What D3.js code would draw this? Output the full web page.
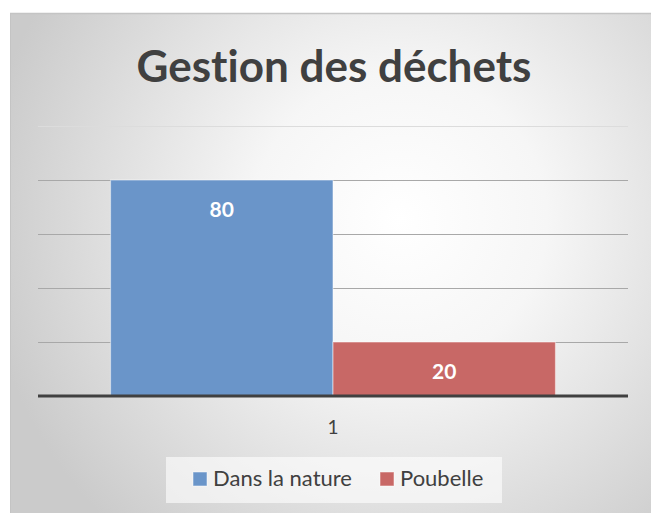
<!DOCTYPE html>
<html>
<head>
<meta charset="utf-8">
<script src="https://cdn.jsdelivr.net/npm/d3@7"></script>
<style>
  html, body { margin: 0; padding: 0; background: #fff; }
  svg { display: block; }
  text { font-variant-ligatures: none; }
</style>
</head>
<body>
<svg id="chart" width="651" height="513"></svg>
<script>
"use strict"

// data
const categories = ["1"];
const seriesNames = ["Dans la nature", "Poubelle"];
const seriesValues = [80, 20];
const seriesColors = ["#6a95c9", "#c86866"];
const yTicks = [0, 20, 40, 60, 80, 100];
const chartTitle = "Gestion des déchets";

const W = 651, H = 513;
const svg = d3.select("#chart");
const font = "Lato, 'Open Sans', sans-serif";

// background gradient
const defs = svg.append("defs");
const grad = defs.append("radialGradient")
    .attr("id", "bg")
    .attr("gradientUnits", "userSpaceOnUse")
    .attr("cx", 400).attr("cy", 220).attr("r", 420);
grad.append("stop").attr("offset", "0%").attr("stop-color", "#ffffff");
grad.append("stop").attr("offset", "35%").attr("stop-color", "#f6f6f6");
grad.append("stop").attr("offset", "100%").attr("stop-color", "#cbcbcb");

svg.append("rect")
    .attr("x", 10).attr("y", 13)
    .attr("width", W - 10).attr("height", H - 13)
    .attr("fill", "url(#bg)");
svg.append("line")
    .attr("x1", 10).attr("x2", W).attr("y1", 13.5).attr("y2", 13.5)
    .attr("stroke", "#c4c4c4").attr("stroke-width", 1.5);
svg.append("line")
    .attr("x1", 10.5).attr("x2", 10.5).attr("y1", 13).attr("y2", H)
    .attr("stroke", "#c4c4c4").attr("stroke-width", 1);

// plot area
const plot = { left: 38, right: 628, top: 126, bottom: 396 };

const y = d3.scaleLinear().domain([0, 100]).range([plot.bottom, plot.top]);
const x0 = d3.scaleBand().domain(categories).range([plot.left, plot.right]).paddingInner(0).paddingOuter(0.163);
const x1 = d3.scaleBand().domain(seriesNames).range([0, x0.bandwidth()]).padding(0);

// gridlines
svg.append("g")
    .selectAll("line")
    .data(yTicks.filter(d => d > 0))
    .join("line")
    .attr("x1", plot.left).attr("x2", plot.right)
    .attr("y1", d => Math.round(y(d)) + 0.5).attr("y2", d => Math.round(y(d)) + 0.5)
    .attr("stroke", d => d === 100 ? "#dcdcdc" : "#a8a8a8")
    .attr("stroke-width", 1.2);

// bars
const groups = svg.append("g")
    .selectAll("g")
    .data(categories)
    .join("g")
    .attr("transform", d => `translate(${x0(d)},0)`);

groups.selectAll("rect")
    .data(() => seriesNames.map((s, i) => ({ name: s, value: seriesValues[i], color: seriesColors[i] })))
    .join("rect")
    .attr("x", d => x1(d.name))
    .attr("y", d => y(d.value))
    .attr("width", x1.bandwidth())
    .attr("height", d => y(0) - y(d.value))
    .attr("fill", d => d.color)
    .attr("stroke", "rgba(255,255,255,0.45)")
    .attr("stroke-width", 1.2);

groups.selectAll("text")
    .data(() => seriesNames.map((s, i) => ({ name: s, value: seriesValues[i] })))
    .join("text")
    .attr("x", d => x1(d.name) + x1.bandwidth() / 2)
    .attr("y", d => y(d.value) + 37)
    .attr("text-anchor", "middle")
    .attr("font-family", font)
    .attr("font-weight", "bold")
    .attr("font-size", 21)
    .attr("fill", "#ffffff")
    .text(d => d.value);

// x axis
const xAxis = svg.append("g")
    .attr("transform", `translate(0,${plot.bottom})`)
    .call(d3.axisBottom(x0).tickSize(0).tickPadding(25));
xAxis.select(".domain").remove();
xAxis.append("line")
    .attr("x1", plot.left).attr("x2", plot.right)
    .attr("y1", 0).attr("y2", 0)
    .attr("stroke", "#404040").attr("stroke-width", 3);
xAxis.selectAll(".tick text")
    .attr("font-family", font)
    .attr("font-size", 19)
    .attr("fill", "#404040");

// title
svg.append("text")
    .attr("x", 334).attr("y", 82)
    .attr("text-anchor", "middle")
    .attr("font-family", font)
    .attr("font-weight", "bold")
    .attr("font-size", 44)
    .attr("fill", "#404040")
    .text(chartTitle);

// legend
const legend = svg.append("g");
legend.append("rect")
    .attr("x", 166).attr("y", 457).attr("width", 336).attr("height", 46)
    .attr("fill", "rgba(255,255,255,0.6)");
const legendX = [193, 380];
const items = legend.selectAll("g")
    .data(seriesNames)
    .join("g")
    .attr("transform", (d, i) => `translate(${legendX[i]},472)`);
items.append("rect")
    .attr("width", 14).attr("height", 14)
    .attr("fill", (d, i) => seriesColors[i])
    .attr("stroke", "rgba(255,255,255,0.5)");
items.append("text")
    .attr("x", 20).attr("y", 14)
    .attr("font-family", font)
    .attr("font-size", 22)
    .attr("fill", "#404040")
    .text(d => d);
</script>
</body>
</html>
